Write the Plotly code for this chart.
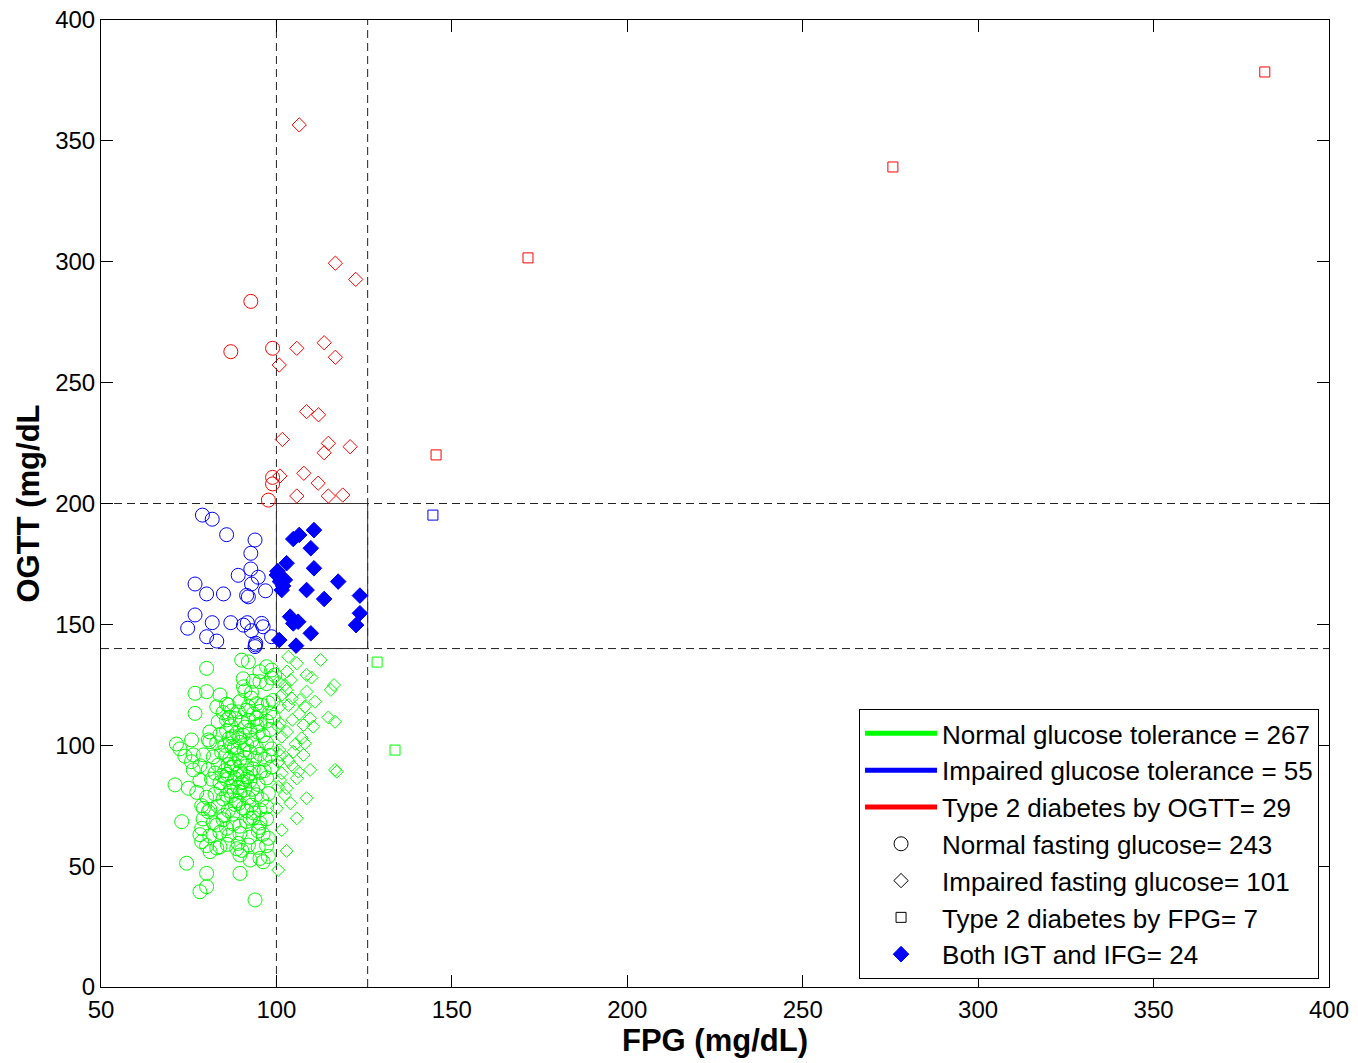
import plotly.graph_objects as go

# ---------------- data (FPG, OGTT in mg/dL) ----------------
# Normal glucose tolerance (green)
green_circle_x = [
    90.1, 92.0,
    80.1, 97.2, 98.6, 95.3,
    90.5, 93.4, 95.3, 97.2, 98.6, 99.5,
    76.8, 80.1, 83.9, 91.0, 92.9, 90.6,
    85.8, 89.6, 94.3, 95.8, 97.7, 99.1, 83.0, 86.3, 92.0,
    76.8, 84.8, 87.2, 89.1, 91.5, 93.4, 95.3, 98.1,
    83.4, 85.8, 88.2, 90.1, 92.0, 94.3, 95.3, 97.2, 99.1, 87.0, 91.0,
    81.0, 83.9, 85.8, 88.7, 90.5, 92.4, 94.8, 96.2, 98.1, 89.5, 86.5,
    71.5, 75.8, 72.5, 81.0, 83.0, 85.3, 87.2, 89.6, 91.5, 94.3, 97.2, 98.6, 80.6, 93.0,
    73.9, 76.3, 79.2, 82.0, 84.4, 86.7, 88.7, 91.0, 92.4, 95.3, 96.7, 98.1, 89.5, 85.5,
    75.8, 76.3, 78.2, 80.6, 83.4, 85.3, 87.2, 89.6, 91.5, 93.4, 95.3, 98.6, 88.0, 90.5, 86.0, 92.5,
    71.1, 74.9, 78.2, 81.5, 83.9, 85.8, 88.2, 90.1, 92.4, 94.8, 97.2, 90.6, 87.0, 84.5, 89.0,
    77.3, 80.1, 82.5, 84.8, 87.2, 89.6, 92.0, 94.3, 95.8, 97.7, 85.8, 91.0, 88.5,
    78.7, 81.0, 83.4, 86.3, 88.2, 90.5, 92.9, 95.3, 97.2, 79.2, 80.6, 87.5, 93.5,
    73.0, 79.1, 82.0, 84.8, 87.7, 91.5, 93.4, 95.3, 97.2, 83.0, 85.8, 92.5, 89.5,
    78.7, 78.2, 81.0, 83.9, 89.6, 92.4, 94.8, 96.2, 97.7, 86.5, 95.0,
    78.7, 80.1, 83.0, 83.9, 88.7, 89.1, 90.1, 92.0, 94.8, 97.2, 81.1, 86.0,
    74.4, 89.6, 95.3, 96.2, 97.7, 92.5,
    80.1, 89.6,
    78.2, 80.1, 93.9,
    87.5, 90.8, 93.8, 86.2, 88.8, 91.8, 84.2, 86.8, 93.2, 89.3, 91.5, 85.0,
    96.5, 88.0, 94.5, 86.5, 92.8, 82.5,
]
green_circle_y = [
    135.2, 134.5,
    131.8, 132.5, 131.1, 130.4,
    127.5, 126.5, 126.3, 125.5, 127.8, 129.0,
    121.5, 122.2, 120.8, 122.5, 121.8, 124.2,
    117.0, 118.0, 117.2, 116.5, 117.5, 118.5, 115.9, 116.6, 115.9,
    113.2, 113.5, 114.2, 113.8, 114.5, 113.0, 114.0, 113.5,
    109.7, 110.5, 111.0, 109.5, 110.2, 111.2, 108.8, 110.0, 111.5, 108.0, 107.5,
    105.5, 104.5, 106.0, 105.0, 104.2, 106.2, 105.3, 104.0, 106.5, 103.0, 102.8,
    100.5, 102.2, 98.5, 101.5, 101.0, 100.0, 99.5, 101.2, 100.3, 99.0, 100.8, 98.5, 102.2, 102.0,
    95.5, 96.0, 96.0, 95.2, 97.0, 94.5, 96.5, 95.0, 97.2, 96.3, 94.2, 95.8, 93.8, 95.8,
    93.2, 89.8, 91.5, 90.0, 91.8, 89.5, 90.8, 89.2, 91.5, 90.2, 88.8, 91.0, 92.3, 87.8, 88.0, 88.5,
    83.6, 82.2, 85.5, 86.0, 84.5, 85.8, 86.2, 84.5, 85.2, 83.8, 86.5, 84.9, 83.0, 87.5, 82.5,
    80.5, 78.5, 79.8, 77.8, 79.2, 80.5, 78.3, 79.5, 77.5, 80.0, 79.4, 81.5, 77.0,
    75.0, 73.5, 74.8, 73.0, 75.5, 74.0, 75.2, 73.3, 74.5, 73.9, 72.5, 71.5, 72.0,
    68.4, 69.5, 68.0, 69.2, 67.5, 68.5, 70.0, 67.8, 69.5, 67.0, 65.6, 69.8, 66.5,
    65.6, 63.0, 62.5, 64.0, 63.5, 62.0, 64.5, 63.2, 61.5, 62.8, 66.0,
    60.1, 58.5, 57.5, 58.0, 57.2, 59.4, 56.5, 58.7, 57.8, 58.5, 56.0, 59.0,
    51.2, 54.6, 53.2, 51.8, 54.0, 52.5,
    47.0, 47.0,
    39.4, 41.5, 36.0,
    103.5, 98.0, 94.5, 92.0, 88.0, 86.8, 82.0, 81.0, 81.8, 76.0, 72.8, 71.0,
    89.5, 99.0, 108.0, 111.5, 119.5, 88.5,
]
green_diamond_x = [
    103.4, 112.6, 108.6, 116.4, 115.5, 102.4, 104.1, 108.6, 101.5, 106.7,
    111.0, 108.1, 103.4, 116.7, 109.6, 107.7, 101.0, 110.5, 107.2, 108.1,
    101.5, 104.8, 107.7, 101.0, 109.6, 116.7, 117.2, 104.8, 101.5, 106.2,
    101.0, 105.8, 102.9, 102.4, 108.6, 100.1, 105.8, 101.5, 102.9, 100.5,
    105.8, 102.9, 104.4, 100.6, 101.0, 100.5, 100.8, 100.5, 100.6, 103.0,
    104.5, 105.5, 103.5, 106.5, 110.0, 114.8, 104.0, 103.0,
]
green_diamond_y = [
    136.6, 135.3, 129.1, 124.9, 122.9, 124.9, 127.0, 122.2, 120.8, 118.7,
    118.0, 115.9, 116.6, 109.7, 111.1, 108.4, 109.1, 107.7, 102.9, 100.8,
    103.5, 97.3, 96.0, 96.0, 89.8, 89.8, 89.1, 91.1, 88.4, 89.1,
    85.6, 86.3, 82.2, 79.4, 78.1, 73.9, 69.8, 64.9, 56.3, 48.4,
    133.9, 122.9, 119.4, 126.3, 115.9, 107.6, 98.0, 82.8, 93.0, 105.5,
    110.5, 100.5, 93.5, 113.0, 128.0, 111.5, 76.0, 130.5,
]
green_square_x = [128.7, 133.8]
green_square_y = [134.4, 98.0]

# Impaired glucose tolerance (blue)
blue_circle_x = [
    78.9, 81.7, 85.8, 93.9, 92.7, 92.7, 89.1, 94.8, 92.9, 76.8,
    80.1, 84.9, 96.9, 92.0, 76.8, 74.7, 81.7, 87.0, 80.1, 83.0,
    90.6, 91.7, 92.9, 95.8, 96.2, 98.6, 94.1, 93.9, 94.0, 91.5,
]
blue_circle_y = [
    195.2, 193.5, 187.1, 184.9, 179.4, 172.9, 170.3, 169.5, 166.7, 166.7,
    162.6, 162.6, 163.9, 161.4, 153.9, 148.4, 150.7, 150.7, 144.9, 143.1,
    149.7, 150.7, 147.4, 150.4, 149.0, 144.9, 142.2, 140.8, 141.5, 162.0,
]
both_x = [
    110.7, 104.8, 106.5, 109.8, 102.9, 110.7, 100.1, 102.4, 101.5, 117.6,
    108.6, 113.6, 123.8, 103.9, 106.2, 104.8, 109.8, 123.8, 122.7, 100.8,
    105.6, 101.0, 100.3, 101.9,
]
both_y = [
    189.0, 185.3, 187.0, 181.5, 175.3, 173.2, 170.4, 168.4, 164.2, 167.7,
    164.2, 160.5, 161.9, 153.2, 151.1, 150.4, 146.3, 154.6, 149.7, 143.5,
    141.2, 167.7, 172.0, 165.9,
]
blue_square_x = [144.6]
blue_square_y = [195.2]

# Type 2 diabetes by OGTT (red)
red_circle_x = [92.7, 87.0, 98.9, 98.9, 98.9, 97.7]
red_circle_y = [283.6, 262.8, 264.2, 210.8, 208.1, 201.4]
red_diamond_x = [
    106.5, 116.8, 122.6, 105.8, 113.6, 116.8, 100.8, 108.6, 112.0, 101.7,
    114.8, 113.6, 121.0, 101.0, 107.8, 111.9, 105.8, 114.8, 118.9,
]
red_diamond_y = [
    356.6, 299.4, 292.7, 264.2, 266.5, 260.5, 257.3, 238.0, 236.7, 226.5,
    224.9, 221.0, 223.5, 211.4, 212.5, 208.4, 203.1, 203.1, 203.5,
]
red_square_x = [381.7, 275.7, 171.7, 145.5]
red_square_y = [378.5, 339.2, 301.6, 220.1]

# thresholds (mg/dL)
fpg_ifg = 100
fpg_dm = 126
ogtt_igt = 140
ogtt_dm = 200

legend_labels = [
    "Normal glucose tolerance = 267",
    "Impaired glucose tolerance = 55",
    "Type 2 diabetes by OGTT= 29",
    "Normal fasting glucose= 243",
    "Impaired fasting glucose= 101",
    "Type 2 diabetes by FPG= 7",
    "Both IGT and IFG= 24",
]

GREEN = "#00FF00"
BLUE = "#0000FF"
RED = "#FF0000"

fig = go.Figure()

def add_pts(x, y, symbol, color, size):
    fig.add_trace(go.Scatter(
        x=x, y=y, mode="markers", showlegend=False, hoverinfo="x+y",
        marker=dict(symbol=symbol, size=size, color=color,
                    line=dict(color=color, width=1)),
    ))

add_pts(green_circle_x, green_circle_y, "circle-open", GREEN, 14)
add_pts(green_diamond_x, green_diamond_y, "diamond-open", GREEN, 10)
add_pts(green_square_x, green_square_y, "square-open", GREEN, 10)
add_pts(blue_circle_x, blue_circle_y, "circle-open", BLUE, 14)
add_pts(both_x, both_y, "diamond", BLUE, 12)
add_pts(blue_square_x, blue_square_y, "square-open", BLUE, 10)
add_pts(red_circle_x, red_circle_y, "circle-open", RED, 14)
add_pts(red_diamond_x, red_diamond_y, "diamond-open", RED, 11)
add_pts(red_square_x, red_square_y, "square-open", RED, 10)

# legend entries
for lab, col in zip(legend_labels[:3], [GREEN, BLUE, RED]):
    fig.add_trace(go.Scatter(x=[None], y=[None], mode="lines", name=lab,
                             line=dict(color=col, width=5)))
for lab, sym, col, sz in zip(legend_labels[3:],
                             ["circle-open", "diamond-open", "square-open", "diamond"],
                             ["black", "black", "black", BLUE],
                             [14, 11, 10, 12]):
    fig.add_trace(go.Scatter(x=[None], y=[None], mode="markers", name=lab,
                             marker=dict(symbol=sym, size=sz, color=col,
                                         line=dict(color=col, width=1))))

# threshold lines
dash_style = dict(color="#222222", width=1, dash="8px,5px")
for xv in (fpg_ifg, fpg_dm):
    fig.add_shape(type="line", xref="x", yref="y", x0=xv, x1=xv, y0=0, y1=400,
                  line=dash_style, layer="below")
for yv in (ogtt_igt, ogtt_dm):
    fig.add_shape(type="line", xref="x", yref="y", x0=50, x1=400, y0=yv, y1=yv,
                  line=dash_style, layer="below")
fig.add_shape(type="rect", xref="x", yref="y", x0=fpg_ifg, x1=fpg_dm,
              y0=ogtt_igt, y1=ogtt_dm, line=dict(color="#333333", width=1),
              layer="below")

FONT = "Liberation Sans, Arial, sans-serif"
axis_common = dict(
    showgrid=False, zeroline=False, showline=True, linecolor="black",
    linewidth=1, mirror="allticks", ticks="inside", ticklen=12,
    tickwidth=1, tickcolor="black",
    tickfont=dict(family=FONT, size=24, color="black"),
)
fig.update_xaxes(range=[50, 400], tickvals=list(range(50, 401, 50)),
                 ticklabelstandoff=1,
                 title=dict(text="<b>FPG (mg/dL)</b>", standoff=7,
                            font=dict(family=FONT, size=31, color="black")),
                 **axis_common)
fig.update_yaxes(range=[0, 400], tickvals=list(range(0, 401, 50)),
                 title=dict(text="<b>OGTT (mg/dL</b>", standoff=6,
                            font=dict(family=FONT, size=31, color="black")),
                 **axis_common)

fig.update_layout(
    width=1358, height=1063,
    margin=dict(l=101, r=29, t=20, b=76, autoexpand=False),
    paper_bgcolor="white", plot_bgcolor="white",
    font=dict(family=FONT, color="black"),
    legend=dict(x=0.9919, y=0.0083, xanchor="right", yanchor="bottom",
                bgcolor="white", bordercolor="black", borderwidth=1,
                font=dict(family=FONT, size=26, color="black"),
                itemwidth=72, tracegroupgap=0),
)

fig.write_html("out.html")
